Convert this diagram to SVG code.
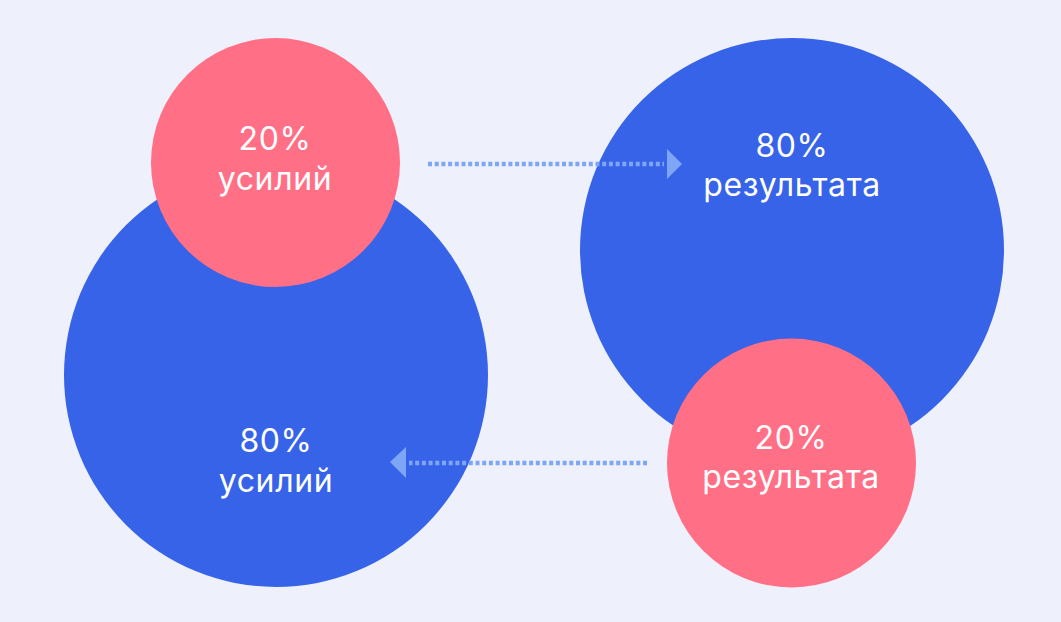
<svg xmlns="http://www.w3.org/2000/svg" width="1061" height="622" viewBox="0 0 1061 622">
<defs>
<style>
.blue{fill:#3763E8}
.pink{fill:#FF6F86}
.t{fill:#fff;font-family:Inter,"Noto Sans",sans-serif;font-size:32px;letter-spacing:0.6px;text-anchor:middle}
.dots{stroke:#7EA6F6;stroke-width:4.5;stroke-dasharray:4 2.7;fill:none}
.head{fill:#7EA6F6}
</style>
</defs>
<rect width="1061" height="622" fill="#EEF1FC"/>
<g id="big-left">
<circle class="blue" cx="276" cy="375" r="212"/>
<text class="t" x="276" y="452">80%</text>
<text class="t" x="276" y="492">усилий</text>
</g>
<g id="small-left">
<circle class="pink" cx="275.5" cy="162.5" r="124.5"/>
<text class="t" x="275" y="150">20%</text>
<text class="t" x="275" y="190">усилий</text>
</g>
<g id="big-right">
<circle class="blue" cx="792" cy="250" r="212"/>
<text class="t" x="792" y="157">80%</text>
<text class="t" x="792" y="196">результата</text>
</g>
<g id="small-right">
<circle class="pink" cx="791.5" cy="463" r="124.5"/>
<text class="t" x="791" y="449">20%</text>
<text class="t" x="791" y="488">результата</text>
</g>
<g id="connectors">
<line class="dots" x1="428" y1="164" x2="664" y2="164"/>
<polygon class="head" points="667,149 682,164 667,179"/>
<line class="dots" x1="647" y1="463" x2="409" y2="463"/>
<polygon class="head" points="406,447 390,462 406,478"/>
</g>
</svg>
